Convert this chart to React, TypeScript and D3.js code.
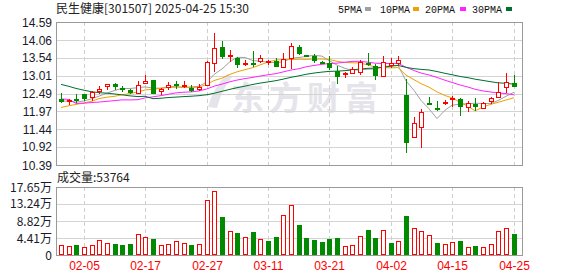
import React from "react";
import * as d3 from "d3";

const dates = ["01-23","01-24","01-27","02-05","02-06","02-07","02-10","02-11","02-12","02-13","02-14","02-17","02-18","02-19","02-20","02-21","02-24","02-25","02-26","02-27","02-28","03-03","03-04","03-05","03-06","03-07","03-10","03-11","03-12","03-13","03-14","03-17","03-18","03-19","03-20","03-21","03-24","03-25","03-26","03-27","03-28","03-31","04-01","04-02","04-03","04-07","04-08","04-09","04-10","04-11","04-14","04-15","04-16","04-17","04-18","04-21","04-22","04-23","04-24","04-25"];
const opens = [12.32,12.28,12.33,12.47,12.40,12.56,12.72,12.76,12.66,12.59,12.51,12.79,12.89,12.55,12.67,12.76,12.71,12.64,12.61,12.74,13.38,13.86,13.60,13.52,13.35,13.38,13.44,13.41,13.45,13.28,13.52,13.85,13.62,13.60,13.42,13.39,13.16,13.06,13.10,13.13,13.38,13.30,13.00,13.33,13.39,12.45,11.22,11.51,12.21,12.05,12.20,12.32,12.32,12.10,12.17,12.05,12.28,12.40,12.67,12.81];
const highs = [12.50,12.33,12.48,12.49,12.55,12.70,12.77,12.80,12.72,12.62,12.85,13.03,12.89,12.64,12.84,12.86,12.87,12.73,12.76,13.43,14.28,14.04,13.77,13.55,13.48,13.75,13.62,13.48,13.52,13.69,13.98,13.91,13.62,13.64,13.45,13.59,13.30,13.13,13.26,13.46,13.67,13.35,13.59,13.52,13.59,12.91,11.79,12.03,12.38,12.27,12.30,12.42,12.35,12.28,12.35,12.24,12.38,12.84,13.10,13.03];
const lows = [12.22,12.15,12.22,12.28,12.26,12.49,12.59,12.59,12.54,12.49,12.49,12.79,12.49,12.45,12.59,12.61,12.64,12.54,12.56,12.71,13.13,13.49,13.42,13.23,13.29,13.28,13.39,13.33,13.26,13.26,13.20,13.62,13.57,13.38,13.35,13.18,12.77,12.94,13.08,13.03,13.30,12.90,13.00,13.23,13.33,10.75,11.22,10.88,12.14,11.99,12.15,12.08,11.83,11.96,11.97,12.03,12.18,12.35,12.51,12.67];
const closes = [12.25,12.31,12.27,12.33,12.53,12.62,12.76,12.67,12.62,12.51,12.75,12.87,12.49,12.61,12.74,12.75,12.75,12.57,12.69,13.41,13.82,13.57,13.63,13.33,13.39,13.35,13.52,13.44,13.28,13.49,13.89,13.64,13.59,13.44,13.38,13.23,12.98,13.10,13.20,13.41,13.33,13.00,13.42,13.38,13.47,11.03,11.61,11.94,12.16,12.03,12.25,12.35,12.10,12.22,12.10,12.22,12.35,12.53,12.84,12.69];
// closes of the 29 sessions before the first visible one (estimated from the MA lines)
const priorCloses = [14.10,14.05,13.95,13.90,13.35,13.25,13.40,13.35,13.40,13.40,12.60,14.60,12.20,12.15,12.35,12.30,12.25,12.20,12.55,12.60,11.80,11.88,11.92,11.98,11.87,12.35,12.40,12.15,12.20];
// volume in 万手
const volumes = [2.58,2.41,2.58,2.07,2.58,3.79,3.10,2.84,2.58,2.84,5.34,4.65,4.13,2.58,2.84,3.53,3.10,2.58,2.76,14.2,16.5,9.82,6.12,5.68,4.65,5.94,4.05,3.62,4.65,10.5,12.9,7.75,4.48,3.88,3.36,4.13,4.39,2.33,2.58,4.91,6.46,4.39,6.46,3.18,3.62,10.16,6.98,6.2,5.17,3.18,2.84,3.36,3.62,2.07,2.33,2.07,2.84,6.2,6.98,5.3764];

const priceTicks = [14.59,14.06,13.54,13.01,12.49,11.97,11.44,10.92,10.39];
const volTicks = [17.65,13.24,8.82,4.41,0];
const volTickLabels = ["17.65万","13.24万","8.82万","4.41万","0"];
const dateTicks = ["02-05","02-17","02-27","03-11","03-21","04-02","04-15","04-25"];
const maPeriods = [5,10,20,30];
const maNames = ["5PMA","10PMA","20PMA","30PMA"];
const maColors = ["#a0a0a0","#f0a000","#ff22ff","#00702e"];

const RED = "#ff0000";
const GREEN = "#008a00";
const W = 578, H = 276;
const L = 56, R = 522;
const PT = 22, PB = 165;
const VT = 187, VB = 255;

export default function App() {
  const x = d3.scaleBand<string>().domain(dates).range([57, 517.4]).padding(0);
  const cx = (d: string) => Math.round((x(d) as number) + x.bandwidth() / 2);
  const y = d3.scaleLinear().domain([10.39, 14.59]).range([PB, PT]);
  const yv = d3.scaleLinear().domain([0, 17.65]).range([VB, VT]);

  const all = priorCloses.concat(closes);
  const off = priorCloses.length;
  const maSeries = maPeriods.map((n) =>
    closes.map((_, i) => d3.mean(all.slice(off + i - n + 1, off + i + 1)) as number)
  );
  const line = d3
    .line<number>()
    .x((_, i) => cx(dates[i]))
    .y((v) => y(v));

  const prevClose = (i: number) => (i === 0 ? priorCloses[priorCloses.length - 1] : closes[i - 1]);
  const font = "'Liberation Sans', Arial, sans-serif";
  const cjk = "'Noto Sans CJK SC', 'Liberation Sans', sans-serif";

  const legendX = [338, 380, 425, 472];
  const swatchX = [365, 413, 460, 506];

  return (
    <svg width={W} height={H} style={{ position: "absolute", left: 0, top: 0, background: "#fff" }}
      xmlns="http://www.w3.org/2000/svg">
      <rect x={0} y={0} width={W} height={H} fill="#fff" />
      {/* title */}
      <text x={56} y={13} fontFamily={cjk} fontSize={12} fill="#222">民生健康[301507] 2025-04-25 15:30</text>
      {/* legend */}
      {maNames.map((n, k) => (
        <g key={n}>
          <text x={legendX[k]} y={12.5} fontFamily="'Liberation Mono', monospace" fontSize={11}
            textLength={n.length * 6} lengthAdjust="spacingAndGlyphs" fill="#111">{n}</text>
          <rect x={swatchX[k]} y={7} width={6} height={4} fill={maColors[k]} />
        </g>
      ))}

      {/* watermark */}
      <g fill="#e4e4ea">
        <path d="M208,107 Q213,88 227,74 L232,77 Q221,91 217,108 Z" />
        <text x={231} y={110} fontFamily={cjk} fontWeight="bold" fontSize={33} letterSpacing={5}>东方财富</text>
      </g>

      {/* price grid */}
      {priceTicks.map((t) => (
        <line key={t} x1={L} x2={R} y1={Math.round(y(t)) + 0.5} y2={Math.round(y(t)) + 0.5} stroke="#d4d4d4" />
      ))}
      {volTicks.map((t) => (
        <line key={t} x1={L} x2={R} y1={Math.round(yv(t)) + 0.5} y2={Math.round(yv(t)) + 0.5} stroke="#d4d4d4" />
      ))}
      {dateTicks.map((d) => (
        <g key={d}>
          <line x1={cx(d) + 0.5} x2={cx(d) + 0.5} y1={PT} y2={PB} stroke="#cfcfcf" strokeDasharray="4,3" />
          <line x1={cx(d) + 0.5} x2={cx(d) + 0.5} y1={VT} y2={VB} stroke="#cfcfcf" strokeDasharray="4,3" />
        </g>
      ))}

      {/* frames */}
      <rect x={L + 0.5} y={PT + 0.5} width={R - L} height={PB - PT} fill="none" stroke="#9a9a9a" />
      <rect x={L + 0.5} y={VT + 0.5} width={R - L} height={VB - VT} fill="none" stroke="#9a9a9a" />

      {/* price labels */}
      {priceTicks.map((t) => (
        <text key={t} x={52} y={y(t) + 4.5} textAnchor="end" fontFamily={font} fontSize={12} fill="#1a1a2a">{t.toFixed(2)}</text>
      ))}

      {/* MA lines */}
      {maSeries.map((s, k) => (
        <path key={k} d={line(s) as string} fill="none" stroke={maColors[k]} strokeWidth={1} />
      ))}

      {/* candles */}
      {dates.map((d, i) => {
        const c = cx(d);
        const up = closes[i] >= opens[i];
        const col = up ? RED : GREEN;
        const top = Math.round(y(Math.max(opens[i], closes[i])));
        const bot = Math.round(y(Math.min(opens[i], closes[i])));
        const hi = Math.round(y(highs[i]));
        const lo = Math.round(y(lows[i]));
        return (
          <g key={d}>
            {up ? (
              <>
                <line x1={c + 0.5} x2={c + 0.5} y1={hi} y2={top} stroke={col} />
                <line x1={c + 0.5} x2={c + 0.5} y1={bot} y2={lo} stroke={col} />
                {bot - top < 1 ? (
                  <line x1={c - 2} x2={c + 3} y1={top + 0.5} y2={top + 0.5} stroke={col} strokeWidth={2} />
                ) : (
                  <rect x={c - 1.5} y={top + 0.5} width={4} height={Math.max(bot - top, 1)} fill="#fff" stroke={col} />
                )}
              </>
            ) : (
              <>
                <line x1={c + 0.5} x2={c + 0.5} y1={hi} y2={lo} stroke={col} />
                <rect x={c - 2} y={top} width={5} height={Math.max(bot - top, 2)} fill={col} />
              </>
            )}
          </g>
        );
      })}

      {/* volume */}
      <text x={57} y={182} fontFamily={cjk} fontSize={12} fill="#222">成交量:{Math.round(volumes[volumes.length - 1] * 10000)}</text>
      {volTicks.map((t, k) => (
        <text key={t} x={52} y={yv(t) + 4.5} textAnchor="end" fontFamily={cjk} fontSize={12} fill="#1a1a2a">{volTickLabels[k]}</text>
      ))}
      {dates.map((d, i) => {
        const c = cx(d);
        const up = closes[i] >= prevClose(i);
        const top = Math.round(yv(volumes[i]));
        return up ? (
          <rect key={d} x={c - 1.5} y={top + 0.5} width={4} height={VB - top - 1} fill="#fff" stroke={RED} />
        ) : (
          <rect key={d} x={c - 2} y={top} width={5} height={VB - top} fill={GREEN} />
        );
      })}

      {/* date labels */}
      {dateTicks.map((d) => (
        <text key={d} x={cx(d) + 0.5} y={270} textAnchor="middle" fontFamily={font} fontSize={12} fill={RED}>{d}</text>
      ))}
    </svg>
  );
}
